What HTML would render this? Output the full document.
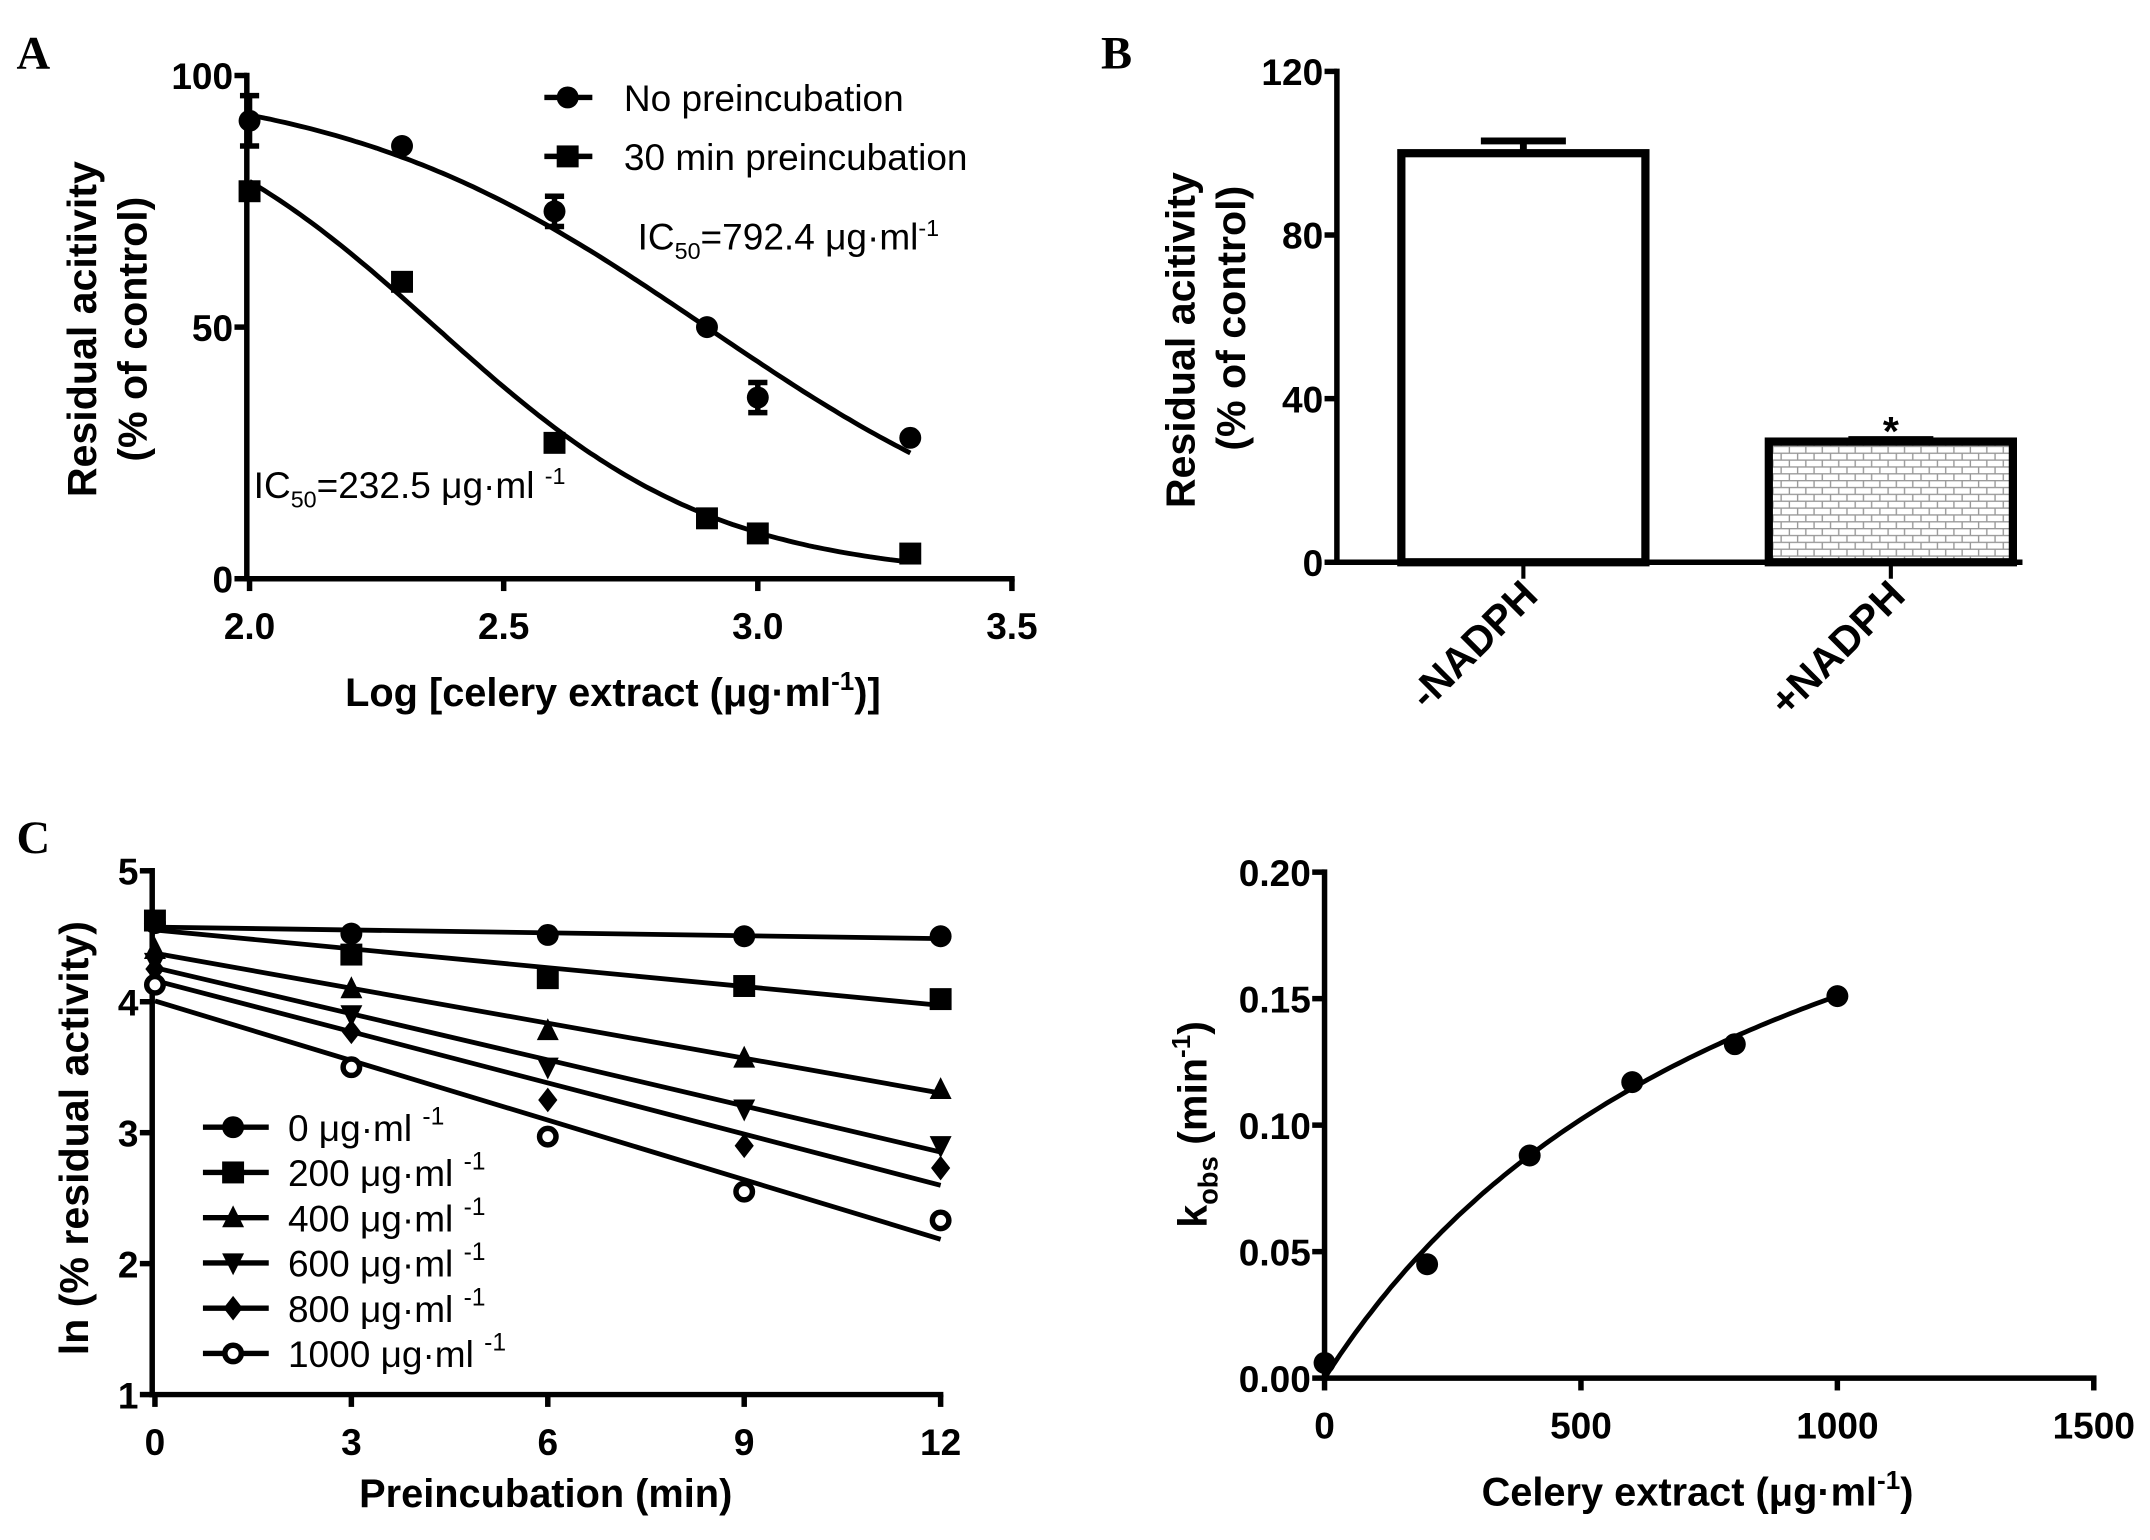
<!DOCTYPE html>
<html><head><meta charset="utf-8"><style>
html,body{margin:0;padding:0;background:#fff;}
svg{display:block;}
text{font-family:"Liberation Sans",sans-serif;fill:#000;}
.tk{font-family:"Liberation Sans Narrow","Liberation Sans",sans-serif;font-weight:bold;font-size:27px;}
.tt{font-weight:bold;font-size:30px;}
.tn{font-family:"Liberation Sans Narrow","Liberation Sans",sans-serif;font-weight:bold;font-size:29px;}
.lg{font-family:"Liberation Sans Narrow","Liberation Sans",sans-serif;font-size:27px;}
.pl{font-family:"Liberation Serif",serif;font-weight:bold;font-size:34px;}
</style></head><body>
<svg id="fig" width="2150" height="1540" viewBox="0 0 1568 1123" xmlns="http://www.w3.org/2000/svg">
<defs>
<pattern id="brick" width="12" height="10" patternUnits="userSpaceOnUse">
<rect width="12" height="10" fill="#fff"/>
<path d="M0 0.5H12M0 5.5H12M3 0V5M9 5V10" stroke="#999" stroke-width="1" fill="none"/>
</pattern>
</defs>
<text class="pl" x="12" y="50">A</text>
<text class="pl" x="803" y="50">B</text>
<text class="pl" x="12" y="622">C</text>
<g id="pA"></g>
<g id="pB"></g>
<g id="pC"></g>
<g id="pD"></g>
</svg>
<script>
// Panel A data
const aX = [2.0, 2.3, 2.6, 2.9, 3.0, 3.3];
const aNoPre = [91, 86, 73, 50, 36, 28];
const aNoPreErr = [5, 0, 3, 0, 3, 0];
const aPre30 = [77, 59, 27, 12, 9, 5];
const aPre30Err = [0, 0, 0, 0, 0, 0];
const aLogIC50 = [2.899, 2.366];
const aHill = [1.19, 1.57];
const aXTicks = [2.0, 2.5, 3.0, 3.5];
const aYTicks = [0, 50, 100];
// Panel B data
const bCats = ["-NADPH", "+NADPH"];
const bVals = [100, 29.5];
const bErr = [3, 0.5];
const bYTicks = [0, 40, 80, 120];
// Panel C data
const cX = [0, 3, 6, 9, 12];
const cLabels = ["0 μg·ml", "200 μg·ml", "400 μg·ml", "600 μg·ml", "800 μg·ml", "1000 μg·ml"];
const c0 = [4.60, 4.52, 4.51, 4.50, 4.50];
const c200 = [4.62, 4.36, 4.18, 4.12, 4.02];
const c400 = [4.40, 4.10, 3.78, 3.57, 3.33];
const c600 = [4.30, 3.90, 3.50, 3.18, 2.90];
const c800 = [4.25, 3.77, 3.25, 2.90, 2.73];
const c1000 = [4.13, 3.50, 2.97, 2.55, 2.33];
const cXTicks = [0, 3, 6, 9, 12];
const cYTicks = [1, 2, 3, 4, 5];
// Panel D data
const dX = [0, 200, 400, 600, 800, 1000];
const dY = [0.006, 0.045, 0.088, 0.117, 0.132, 0.151];
const dKmax = [0.289];
const dKI = [913];
const dXTicks = [0, 500, 1000, 1500];
const dYTicks = [0.00, 0.05, 0.10, 0.15, 0.20];

const NS = "http://www.w3.org/2000/svg";
function mk(parent, tag, attrs, txt) {
  const e = document.createElementNS(NS, tag);
  for (const k in attrs) e.setAttribute(k, attrs[k]);
  if (txt !== undefined) e.textContent = txt;
  parent.appendChild(e);
  return e;
}
function lin(d0, d1, r0, r1) { return v => r0 + (v - d0) / (d1 - d0) * (r1 - r0); }
function marker(g, type, x, y, s) {
  let e;
  if (type === "circle") e = mk(g, "circle", {cx: x, cy: y, r: s, fill: "#000"});
  else if (type === "ocircle") e = mk(g, "circle", {cx: x, cy: y, r: s - 2, fill: "#fff", stroke: "#000", "stroke-width": 4});
  else if (type === "square") e = mk(g, "rect", {x: x - s, y: y - s, width: 2 * s, height: 2 * s, fill: "#000"});
  else if (type === "tri") e = mk(g, "polygon", {points: `${x},${y - s - 1} ${x - s},${y + s - 1} ${x + s},${y + s - 1}`, fill: "#000"});
  else if (type === "itri") e = mk(g, "polygon", {points: `${x},${y + s + 1} ${x - s},${y - s + 1} ${x + s},${y - s + 1}`, fill: "#000"});
  else e = mk(g, "polygon", {points: `${x},${y - s - 1} ${x - s + 1},${y} ${x},${y + s + 1} ${x + s - 1},${y}`, fill: "#000"});
  
  
  return e;
}
function yAxis(g, x, y0, y1, ticks, sy, fmt, name) {
  const a = mk(g, "line", {x1: x, y1: y0 + 2, x2: x, y2: y1 - 2, stroke: "#000", "stroke-width": 4});
  
  
  ticks.forEach(t => {
    mk(g, "line", {x1: x - 9, y1: sy(t), x2: x, y2: sy(t), stroke: "#000", "stroke-width": 4});
    const l = mk(g, "text", {class: "tk", x: x - 10, y: sy(t) + 10, "text-anchor": "end"}, fmt(t));
    
    
  });
}
function xAxis(g, y, x0, x1, ticks, sx, fmt, name) {
  const a = mk(g, "line", {x1: x0 - 2, y1: y, x2: x1 + 2, y2: y, stroke: "#000", "stroke-width": 4});
  
  
  ticks.forEach(t => {
    mk(g, "line", {x1: sx(t), y1: y, x2: sx(t), y2: y + 9, stroke: "#000", "stroke-width": 4});
    const l = mk(g, "text", {class: "tk", x: sx(t), y: y + 44, "text-anchor": "middle"}, fmt(t));
    
    
  });
}

// ---------- Panel A ----------
(function () {
  const g = document.getElementById("pA");
  const sx = lin(2.0, 3.5, 182, 738), sy = lin(0, 100, 422, 55);
  yAxis(g, 180, 422, 55, aYTicks, sy, t => String(t), "y-axis");
  xAxis(g, 422, 180, 738, aXTicks, sx, t => t.toFixed(1), "x-axis");
  const yt = mk(g, "text", {class: "tt", transform: "translate(70,240) rotate(-90)", "text-anchor": "middle"}, "Residual acitivity");
   
  const yt2 = mk(g, "text", {class: "tt", transform: "translate(107,240) rotate(-90)", "text-anchor": "middle"}, "(% of control)");
   
  const xt = mk(g, "text", {class: "tn", x: 447, y: 515, "text-anchor": "middle"});
  xt.innerHTML = 'Log [celery extract (μg·ml<tspan dy="-12" font-size="19">-1</tspan><tspan dy="12">)]</tspan>';
   
  const series = [[aNoPre, aNoPreErr, "circle"], [aPre30, aPre30Err, "square"]];
  series.forEach((s, i) => {
    let d = "";
    for (let k = 0; k <= 130; k++) {
      const x = 2.0 + k * 0.01;
      const y = 100 / (1 + Math.pow(10, (x - aLogIC50[i]) * aHill[i]));
      d += (k ? "L" : "M") + sx(x).toFixed(1) + " " + sy(y).toFixed(1);
    }
    const c = mk(g, "path", {d: d, fill: "none", stroke: "#000", "stroke-width": 3.5});
    
    
    aX.forEach((x, j) => {
      if (s[1][j] > 0) {
        const e = mk(g, "path", {d: `M${sx(x)} ${sy(s[0][j] + s[1][j])}V${sy(s[0][j] - s[1][j])}M${sx(x) - 7} ${sy(s[0][j] + s[1][j])}H${sx(x) + 7}M${sx(x) - 7} ${sy(s[0][j] - s[1][j])}H${sx(x) + 7}`, stroke: "#000", "stroke-width": 4, fill: "none"});
         
      }
      marker(g, s[2], sx(x), sy(s[0][j]), 8);
    });
  });
  const lab = ["No preincubation", "30 min preincubation"];
  lab.forEach((t, i) => {
    const y = 71 + i * 43;
    const lg = mk(g, "g", {});
     
    mk(lg, "line", {x1: 397, y1: y, x2: 432, y2: y, stroke: "#000", "stroke-width": 4});
    marker(lg, i ? "square" : "circle", 414, y, 8);
    mk(lg, "text", {class: "lg", x: 455, y: y + 10, "font-size": "30"}, t);
  });
  const ic1 = mk(g, "text", {class: "lg", x: 465, y: 182, "font-size": "25"});
  ic1.innerHTML = 'IC<tspan dy="7" font-size="17">50</tspan><tspan dy="-7">=792.4  μg·ml</tspan><tspan dy="-10" font-size="17">-1</tspan>';
   
  const ic2 = mk(g, "text", {class: "lg", x: 185, y: 363, "font-size": "25"});
  ic2.innerHTML = 'IC<tspan dy="7" font-size="17">50</tspan><tspan dy="-7">=232.5  μg·ml </tspan><tspan dy="-10" font-size="17">-1</tspan>';
   
})();

// ---------- Panel B ----------
(function () {
  const g = document.getElementById("pB");
  const sy = lin(0, 120, 410, 52);
  yAxis(g, 975, 410, 52, bYTicks, sy, t => String(t), "y-axis");
  const ax = mk(g, "line", {x1: 973, y1: 410, x2: 1475, y2: 410, stroke: "#000", "stroke-width": 4});
   
  const cx = [1111, 1379], bw = 178;
  bCats.forEach((c, i) => {
    const b = mk(g, "rect", {x: cx[i] - bw / 2, y: sy(bVals[i]), width: bw, height: 410 - sy(bVals[i]), fill: i ? "url(#brick)" : "#fff", stroke: "#000", "stroke-width": 6});
    
    
    const e = mk(g, "path", {d: `M${cx[i]} ${sy(bVals[i])}V${sy(bVals[i] + bErr[i])}M${cx[i] - 31} ${sy(bVals[i] + bErr[i])}H${cx[i] + 31}`, stroke: "#000", "stroke-width": 5, fill: "none"});
     
    mk(g, "line", {x1: cx[i], y1: 410, x2: cx[i], y2: 422, stroke: "#000", "stroke-width": 3});
    const l = mk(g, "text", {class: "tt", transform: `translate(${cx[i] + 12},436) rotate(-45)`, "text-anchor": "end", "font-size": "29"}, c);
     
  });
  const st = mk(g, "text", {class: "tt", x: 1379, y: sy(bVals[1] + bErr[1]) + 4, "text-anchor": "middle", "font-size": "26"}, "*");
   
  const yt = mk(g, "text", {class: "tt", transform: "translate(871,248) rotate(-90)", "text-anchor": "middle"}, "Residual acitivity");
   
  const yt2 = mk(g, "text", {class: "tt", transform: "translate(908,232) rotate(-90)", "text-anchor": "middle"}, "(% of control)");
   
})();

// ---------- Panel C ----------
(function () {
  const g = document.getElementById("pC");
  const sx = lin(0, 12, 113, 686), sy = lin(1, 5, 1017, 635);
  yAxis(g, 111, 1017, 635, cYTicks, sy, t => String(t), "y-axis");
  xAxis(g, 1017, 111, 686, cXTicks, sx, t => String(t), "x-axis");
  const yt = mk(g, "text", {class: "tt", transform: "translate(64,830) rotate(-90)", "text-anchor": "middle"}, "ln (% residual activity)");
   
  const xt = mk(g, "text", {class: "tn", x: 398, y: 1099, "text-anchor": "middle"}, "Preincubation (min)");
   
  const all = [c0, c200, c400, c600, c800, c1000];
  const mks = ["circle", "square", "tri", "itri", "diamond", "ocircle"];
  all.forEach((ys, i) => {
    const n = cX.length;
    const mx = cX.reduce((a, b) => a + b, 0) / n, my = ys.reduce((a, b) => a + b, 0) / n;
    let sxy = 0, sxx = 0;
    cX.forEach((x, j) => { sxy += (x - mx) * (ys[j] - my); sxx += (x - mx) * (x - mx); });
    const m = sxy / sxx, b = my - m * mx;
    const l = mk(g, "line", {x1: sx(0), y1: sy(b), x2: sx(12), y2: sy(b + 12 * m), stroke: "#000", "stroke-width": 3.5});
    
    
    cX.forEach((x, j) => marker(g, mks[i], sx(x), sy(ys[j]), 8));
    const y = 822 + i * 33;
    const lg = mk(g, "g", {});
     
    mk(lg, "line", {x1: 148, y1: y, x2: 196, y2: y, stroke: "#000", "stroke-width": 4});
    marker(lg, mks[i], 170, y, 8);
    const t = mk(lg, "text", {class: "lg", x: 210, y: y + 10});
    t.innerHTML = cLabels[i] + ' <tspan dy="-12" font-size="18">-1</tspan>';
  });
})();

// ---------- Panel D ----------
(function () {
  const g = document.getElementById("pD");
  const sx = lin(0, 1500, 966, 1527), sy = lin(0, 0.2, 1005, 636);
  yAxis(g, 966, 1005, 636, dYTicks, sy, t => t.toFixed(2), "y-axis");
  xAxis(g, 1005, 966, 1527, dXTicks, sx, t => String(t), "x-axis");
  let d = "";
  for (let k = 0; k <= 100; k++) {
    const x = k * 10;
    const y = dKmax[0] * x / (dKI[0] + x);
    d += (k ? "L" : "M") + sx(x).toFixed(1) + " " + sy(y).toFixed(1);
  }
  const c = mk(g, "path", {d: d, fill: "none", stroke: "#000", "stroke-width": 3.5});
  
  
  dX.forEach((x, j) => marker(g, "circle", sx(x), sy(dY[j]), 8));
  const yt = mk(g, "text", {class: "tt", transform: "translate(880,820) rotate(-90)", "text-anchor": "middle"});
  yt.innerHTML = 'k<tspan dy="8" font-size="20">obs</tspan><tspan dy="-8">  (min</tspan><tspan dy="-12" font-size="19">-1</tspan><tspan dy="12">)</tspan>';
   
  const xt = mk(g, "text", {class: "tn", x: 1238, y: 1098, "text-anchor": "middle"});
  xt.innerHTML = 'Celery extract (μg·ml<tspan dy="-12" font-size="19">-1</tspan><tspan dy="12">)</tspan>';
   
})();
</script>
</body></html>
